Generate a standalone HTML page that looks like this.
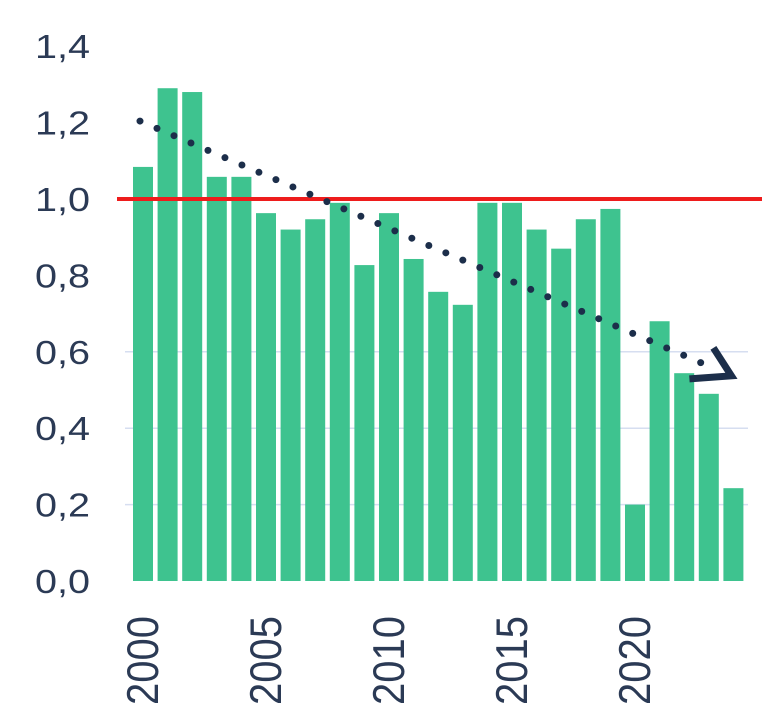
<!DOCTYPE html>
<html><head><meta charset="utf-8"><style>
html,body{margin:0;padding:0;background:#fff;}
svg{display:block;font-family:"Liberation Sans",sans-serif;}
</style></head><body>
<svg id="chart" width="762" height="720"></svg>
<script>
const years = [2000,2001,2002,2003,2004,2005,2006,2007,2008,2009,2010,2011,2012,2013,2014,2015,2016,2017,2018,2019,2020,2021,2022,2023,2024];
const values = [1.084,1.29,1.28,1.058,1.058,0.963,0.92,0.947,0.99,0.827,0.963,0.843,0.757,0.723,0.99,0.99,0.92,0.87,0.947,0.974,0.20,0.68,0.544,0.49,0.243];
const yTicks = [0,0.2,0.4,0.6,0.8,1.0,1.2,1.4];
const yTickLabels = ["0,0","0,2","0,4","0,6","0,8","1,0","1,2","1,4"];
const xTickYears = [2000,2005,2010,2015,2020];
const gridValues = [0.2,0.4,0.6];
const refValue = 1.0;
const trendStart = 1.204, trendEnd = 0.537;

const NS="http://www.w3.org/2000/svg";
const svg=document.getElementById('chart');
const y0=581, pxPerUnit=382;
const yScale=v=>y0-v*pxPerUnit;
const xScale=yr=>143+(yr-2000)*24.6;
const bw=20;
function mk(tag,attrs){const e=document.createElementNS(NS,tag);for(const k in attrs)e.setAttribute(k,attrs[k]);svg.appendChild(e);return e;}

gridValues.forEach(v=>{
  const g=mk('line',{x1:125,x2:748,y1:yScale(v),y2:yScale(v),stroke:'#d6def0','stroke-width':1.5});
  
  
});
years.forEach((yr,i)=>{
  const r=mk('rect',{x:xScale(yr)-bw/2,y:yScale(values[i]),width:bw,height:yScale(0)-yScale(values[i]),fill:'#3ec38f'});
  
  
});
const ref=mk('line',{x1:117,x2:762,y1:yScale(refValue),y2:yScale(refValue),stroke:'#ee1c1c','stroke-width':4});



const x1=xScale(years[0])-3,x2=xScale(years[years.length-1])-2;
const ya=yScale(trendStart),yb=yScale(trendEnd);
const tr=mk('line',{x1:x1,y1:ya,x2:x2-20,y2:yb-(yb-ya)*20/(x2-x1),stroke:'#1c2e4a','stroke-width':7,'stroke-dasharray':'0 18.5','stroke-linecap':'round'});


const ah=mk('polyline',{points:`${x2-18},${yb-28} ${x2},${yb} ${x2-42},${yb+3}`,fill:'none',stroke:'#1c2e4a','stroke-width':7,'stroke-linejoin':'miter'});



yTicks.forEach((v,i)=>{
  const t=mk('text',{x:0,y:0,'font-size':33,fill:'#2b3a55','text-anchor':'end',transform:`translate(90,${yScale(v)+12}) scale(1.2,1)`});
  t.textContent=yTickLabels[i];
  
  
});
xTickYears.forEach(yr=>{
  const t=mk('text',{x:0,y:0,'font-size':40,fill:'#2b3a55','text-anchor':'start',transform:`translate(${xScale(yr)+15},705) rotate(-90) scale(1,1.12)`});
  t.textContent=String(yr);
  
  
});
</script>
</body></html>
